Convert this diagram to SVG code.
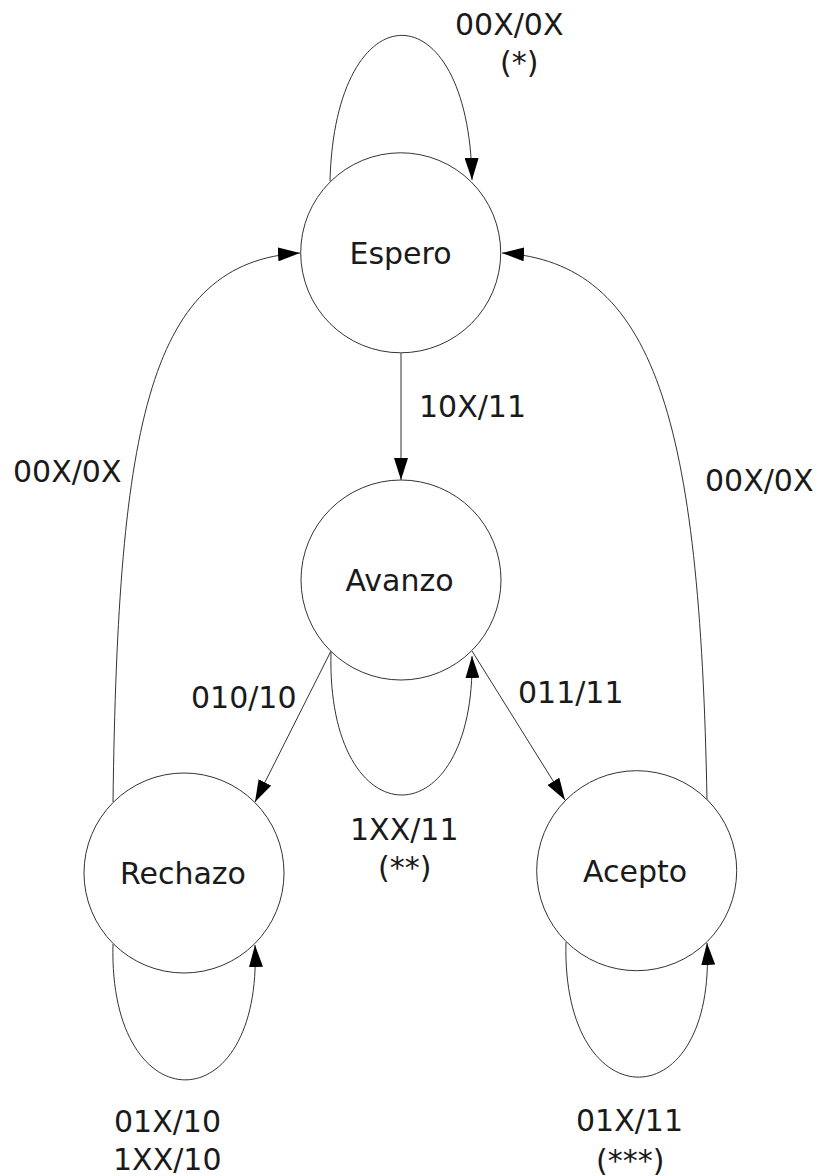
<svg xmlns="http://www.w3.org/2000/svg" width="819" height="1176" viewBox="0 0 819 1176">
  <defs>
    <marker id="arrow" viewBox="0 0 22 14" markerWidth="22" markerHeight="14" refX="22" refY="7" orient="auto" markerUnits="userSpaceOnUse">
      <path d="M0,0 L22,7 L0,14 z" fill="#000"/>
    </marker>
    <style>
      .state circle { fill: #fff; stroke: #333; stroke-width: 1; }
      .state text { font-family: "DejaVu Sans", sans-serif; font-size: 30px; fill: #1a1a1a; text-anchor: middle; }
      .edge { fill: none; stroke: #333; stroke-width: 1; marker-end: url(#arrow); }
      .label { font-family: "DejaVu Sans", sans-serif; font-size: 30px; fill: #1a1a1a; }
    </style>
  </defs>
  <rect width="819" height="1176" fill="#fff"/>

  <!-- transitions -->
  <g id="connectors">
    <!-- Espero self-loop -->
    <path class="edge" d="M330,181 C335,-13 469,-13 472,180"/>
    <!-- Espero -> Avanzo -->
    <path class="edge" d="M401,353 L401,480"/>
    <!-- Avanzo self-loop -->
    <path class="edge" d="M331,652 C326,842 476,842 472,656"/>
    <!-- Avanzo -> Rechazo -->
    <path class="edge" d="M331,651 L255,802"/>
    <!-- Avanzo -> Acepto -->
    <path class="edge" d="M472,651 L565,800"/>
    <!-- Rechazo self-loop -->
    <path class="edge" d="M113,944 C108,1125 263,1125 255,945"/>
    <!-- Acepto self-loop -->
    <path class="edge" d="M566,942 C561,1122 717,1122 707,943"/>
    <!-- Rechazo -> Espero -->
    <path class="edge" d="M113,802 C118,420 150,262 300,253"/>
    <!-- Acepto -> Espero -->
    <path class="edge" d="M707,800 C700,420 655,262 502,253"/>
  </g>

  <!-- transition labels -->
  <g id="labels">
    <text class="label" x="455" y="35">00X/0X</text>
    <text class="label" x="500" y="73">(*)</text>
    <text class="label" x="419" y="417">10X/11</text>
    <text class="label" x="13" y="482">00X/0X</text>
    <text class="label" x="705" y="491">00X/0X</text>
    <text class="label" x="191" y="708">010/10</text>
    <text class="label" x="518" y="703">011/11</text>
    <text class="label" x="350" y="840">1XX/11</text>
    <text class="label" x="378" y="878">(**)</text>
    <text class="label" x="114" y="1132">01X/10</text>
    <text class="label" x="113" y="1170">1XX/10</text>
    <text class="label" x="576" y="1131">01X/11</text>
    <text class="label" x="596" y="1171">(***)</text>
  </g>

  <!-- states -->
  <g id="espero" class="state">
    <circle cx="400.7" cy="252.8" r="100"/>
    <text x="400.5" y="264">Espero</text>
  </g>
  <g id="avanzo" class="state">
    <circle cx="401" cy="580" r="100"/>
    <text x="399.5" y="591">Avanzo</text>
  </g>
  <g id="rechazo" class="state">
    <circle cx="184" cy="873" r="100"/>
    <text x="183" y="884">Rechazo</text>
  </g>
  <g id="acepto" class="state">
    <circle cx="636.7" cy="870.7" r="100"/>
    <text x="635" y="882">Acepto</text>
  </g>
</svg>
